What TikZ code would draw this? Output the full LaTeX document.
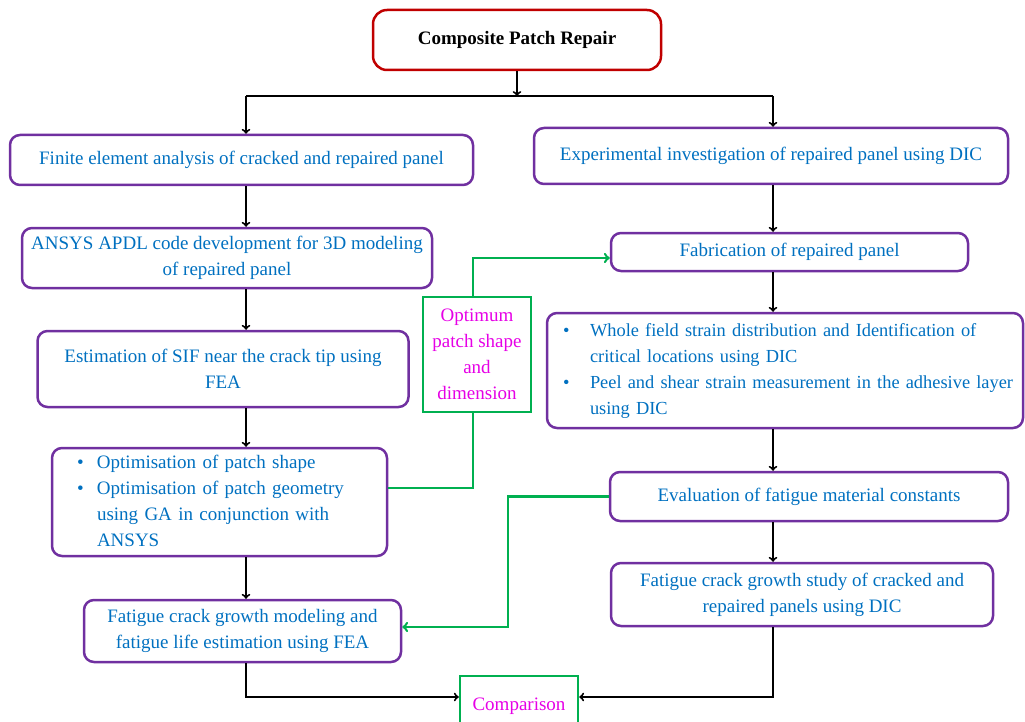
\documentclass[tikz,border=0pt]{standalone}
\usepackage{fontspec}
\setmainfont{Liberation Serif}
\usepackage{tikz}

\definecolor{boxpurple}{HTML}{7030A0}
\definecolor{boxred}{HTML}{C00000}
\definecolor{linegreen}{HTML}{00B050}
\definecolor{textblue}{HTML}{0070C0}
\definecolor{textmagenta}{HTML}{E600E6}

\begin{document}
\begin{tikzpicture}[x=1pt, y=-1pt,
                          titlenode/.style={rectangle, draw=boxred, rounded corners=14pt, line width=2.5pt, inner sep=0pt, align=center, font=\fontsize{19}{26}\selectfont\bfseries},
                          stagenode/.style={rectangle, draw=boxpurple, rounded corners=10pt, line width=2.5pt, inner sep=0pt, align=center, text=textblue, font=\fontsize{19}{26}\selectfont},
                          outputnode/.style={rectangle, draw=linegreen, line width=2.5pt, inner sep=0pt, align=center, text=textmagenta, font=\fontsize{19}{26}\selectfont},
                          blackline/.style={line width=2pt},
                          greenline/.style={draw=linegreen, line width=2.5pt},
                      ]
                      \useasboundingbox (0,0) rectangle (1025,722);

                      % Nodes
                      \node[titlenode, minimum width=288, minimum height=60]   (repair)   at (517,40)      {Composite Patch Repair};

                      \node[stagenode, minimum width=463, minimum height=50]   (fea)      at (241.5,160)   {Finite element analysis of cracked and repaired panel};
                      \node[stagenode, minimum width=410, minimum height=60]   (apdl)     at (227,258)     {ANSYS APDL code development for 3D modeling\\of repaired panel};
                      \node[stagenode, minimum width=371, minimum height=76]   (sif)      at (223,369)     {Estimation of SIF near the crack tip using\\FEA};
                      \node[stagenode, minimum width=335, minimum height=108, text width=285, inner xsep=25, align=left] (optim) at (219.5,502)
                          {\begin{tabular}{@{}p{20pt}@{}l@{}}
                           \textbullet & Optimisation of patch shape\\
                           \textbullet & Optimisation of patch geometry\\
                                       & using GA in conjunction with\\
                                       & ANSYS
                           \end{tabular}};
                      \node[stagenode, minimum width=317, minimum height=62]   (fcgm)     at (242.5,631)   {Fatigue crack growth modeling and\\fatigue life estimation using FEA};

                      \node[stagenode, minimum width=474, minimum height=56]   (exp)      at (771,156)     {Experimental investigation of repaired panel using DIC};
                      \node[stagenode, minimum width=357, minimum height=38]   (fab)      at (789.5,252)   {Fabrication of repaired panel};
                      \node[stagenode, minimum width=476, minimum height=115, text width=444, inner xsep=16, align=left,
                            font=\fontsize{18.4}{26}\selectfont] (dic) at (785,370.5)
                          {\begin{tabular}{@{}p{27pt}@{}l@{}}
                           \textbullet & Whole field strain distribution and Identification of\\
                                       & critical locations using DIC\\
                           \textbullet & Peel and shear strain measurement in the adhesive layer\\
                                       & using DIC
                           \end{tabular}};
                      \node[stagenode, minimum width=398, minimum height=49]   (eval)     at (809,496.5)   {Evaluation of fatigue material constants};
                      \node[stagenode, minimum width=382, minimum height=63]   (fcgs)     at (802,594.5)   {Fatigue crack growth study of cracked and\\repaired panels using DIC};

                      \node[outputnode, minimum width=108, minimum height=115] (optimum)  at (477,354.5)   {Optimum\\patch shape\\and\\dimension};
                      \node[outputnode, minimum width=118, minimum height=60]  (compare)  at (519,706)     {Comparison};

                      \coordinate (split) at (517,96);
                      \coordinate (colL)  at (246,0);
                      \coordinate (colR)  at (773,0);
                      \coordinate (gA)    at (473,488);
                      \coordinate (gB)    at (508,0);
                      \coordinate (cmp)   at (0,697);

                      %Lines
                      \draw[blackline, ->] (repair.south) -- (split);
                      \draw[blackline] (colL |- split) -- (colR |- split);
                      \draw[blackline, ->] (colL |- split) -- (colL |- fea.north);
                      \draw[blackline, ->] (colR |- split) -- (colR |- exp.north);
                      \draw[blackline, ->] (colL |- fea.south) -- (colL |- apdl.north);
                      \draw[blackline, ->] (colL |- apdl.south) -- (colL |- sif.north);
                      \draw[blackline, ->] (colL |- sif.south) -- (colL |- optim.north);
                      \draw[blackline, ->] (colL |- optim.south) -- (colL |- fcgm.north);
                      \draw[blackline, ->] (colR |- exp.south) -- (colR |- fab.north);
                      \draw[blackline, ->] (colR |- fab.south) -- (colR |- dic.north);
                      \draw[blackline, ->] (colR |- dic.south) -- (colR |- eval.north);
                      \draw[blackline, ->] (colR |- eval.south) -- (colR |- fcgs.north);
                      \draw[blackline, ->] (colL |- fcgm.south) |- (compare.west |- cmp);
                      \draw[blackline, ->] (colR |- fcgs.south) |- (compare.east |- cmp);
                      \draw[greenline] (gA -| optim.east) -| (optimum.south -| gA);
                      \draw[greenline, ->] (optimum.north -| gA) |- ([yshift=-6pt]fab.west);
                      \draw[greenline, ->] (eval.west) -- (eval.west -| gB) |- ([yshift=4pt]fcgm.east);
                  \end{tikzpicture}
\end{document}
